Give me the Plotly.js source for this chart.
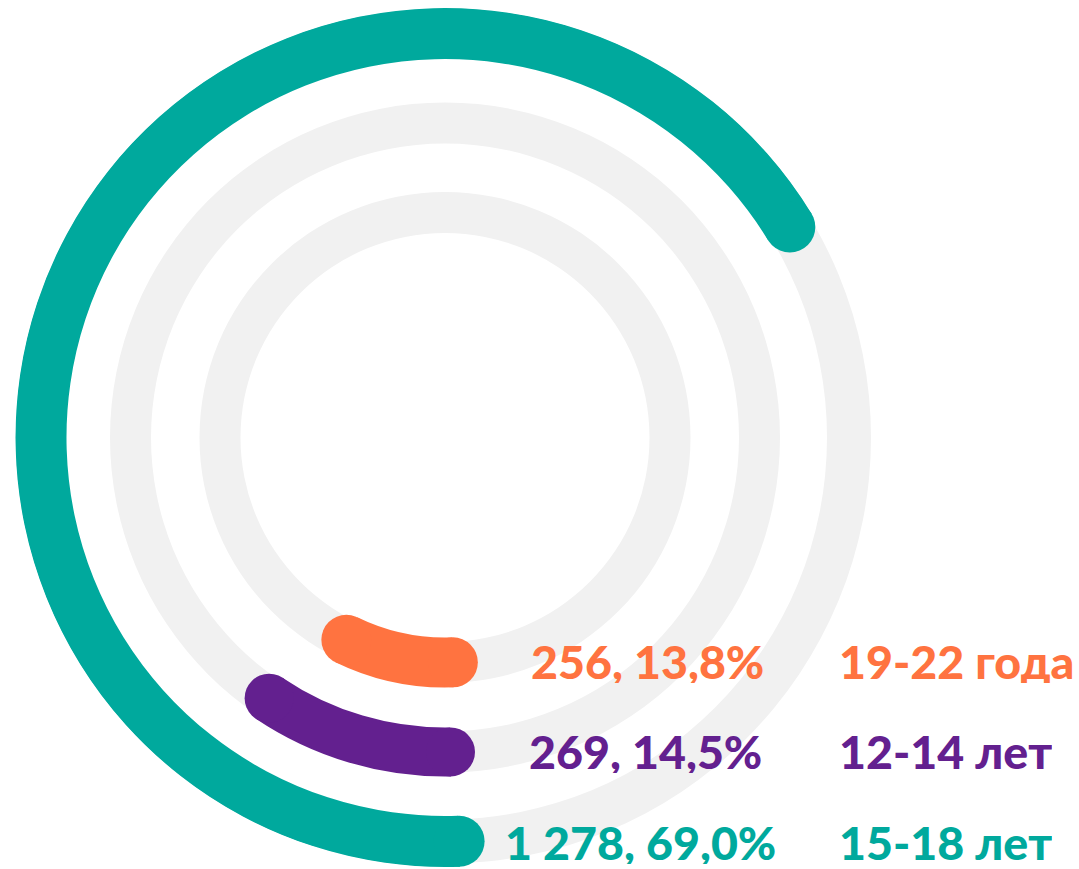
<!DOCTYPE html>
<html>
<head>
<meta charset="utf-8">
<script src="https://cdn.plot.ly/plotly-3.0.1.min.js"></script>
<style>html,body{margin:0;padding:0;background:#fff;}#chart{width:1079px;height:869px;}</style>
</head>
<body>
<div id="chart"></div>
<script>
// ---- data ----
const categories = ['15-18 лет', '12-14 лет', '19-22 года'];
const counts = [1278, 269, 256];
const shares = [69.0, 14.5, 13.8];
// arc extent of each coloured band, degrees clockwise from 6 o'clock
const arcStart = [-2, -1, -2];
const arcEnd = [238.6, 34, 26];

// ---- styling ----
const colors = ['#00A99D', '#63208F', '#FF7340'];
const trackColor = '#F1F1F1';
const ringRadius = [404, 314.5, 225];
const bandWidth = [51, 49, 50];
const trackWidth = [44, 41, 41];
const cx = 445, cy = 437.5, R = 430, W = 1079, H = 869;

function fmtCount(n) { return String(n).replace(/\B(?=(\d{3})+(?!\d))/g, ' '); }
function fmtShare(p) { return p.toFixed(1).replace('.', ',') + '%'; }

const traces = [];
// grey tracks
traces.push({
  type: 'barpolar',
  r: trackWidth,
  base: ringRadius.map((rr, i) => rr - trackWidth[i] / 2),
  theta: ringRadius.map(() => 180),
  width: ringRadius.map(() => 360),
  marker: { color: trackColor, line: { width: 0 } },
  hoverinfo: 'skip', showlegend: false
});
// coloured bands
traces.push({
  type: 'barpolar',
  r: bandWidth,
  base: ringRadius.map((rr, i) => rr - bandWidth[i] / 2),
  theta: arcStart.map((s, i) => (s + arcEnd[i]) / 2),
  width: arcStart.map((s, i) => arcEnd[i] - s),
  marker: { color: colors, line: { width: 0 } },
  hoverinfo: 'skip', showlegend: false
});
// rounded caps
categories.forEach((c, i) => {
  traces.push({
    type: 'scatterpolar', mode: 'markers',
    r: [ringRadius[i], ringRadius[i]],
    theta: [arcStart[i], arcEnd[i]],
    marker: { size: bandWidth[i], color: colors[i], line: { width: 0 } },
    hoverinfo: 'skip', showlegend: false
  });
});

const labelY = [842, 751, 661];
const numX = [640, 645, 647];
const catX = 837;
const annotations = [];
categories.forEach((c, i) => {
  const font = { family: 'Lato, sans-serif', size: 46.5, color: colors[i], weight: 900 };
  annotations.push({
    xref: 'paper', yref: 'paper', x: numX[i] / W, y: 1 - labelY[i] / H,
    xanchor: 'center', yanchor: 'middle', showarrow: false, height: 44,
    text: fmtCount(counts[i]) + ', ' + fmtShare(shares[i]), font: font
  });
  annotations.push({
    xref: 'paper', yref: 'paper', x: catX / W, y: 1 - labelY[i] / H,
    xanchor: 'left', yanchor: 'middle', showarrow: false, height: 44,
    text: c, font: font
  });
});

const layout = {
  width: W, height: H,
  margin: { l: 0, r: 0, t: 0, b: 0 },
  paper_bgcolor: '#ffffff',
  showlegend: false,
  polar: {
    domain: { x: [(cx - R) / W, (cx + R) / W], y: [1 - (cy + R) / H, 1 - (cy - R) / H] },
    bgcolor: 'rgba(0,0,0,0)',
    radialaxis: { range: [0, R], visible: false, showgrid: false },
    angularaxis: { rotation: -90, direction: 'clockwise', visible: false, showgrid: false }
  },
  annotations: annotations
};

Plotly.newPlot('chart', traces, layout, { staticPlot: true, displayModeBar: false });
</script>
</body>
</html>
